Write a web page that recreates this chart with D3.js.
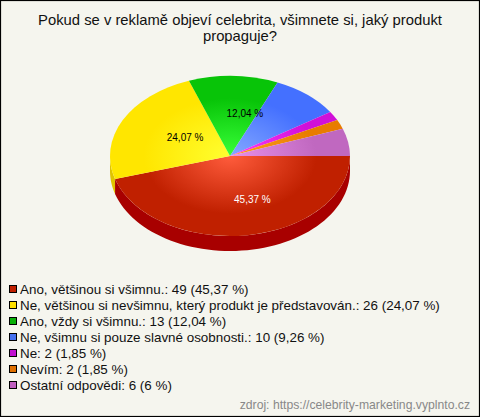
<!DOCTYPE html>
<html><head><meta charset="utf-8">
<script src="https://cdn.jsdelivr.net/npm/d3@7/dist/d3.min.js"></script>
<style>html,body{margin:0;padding:0;background:#f5f5ee}svg{display:block}text{font-family:"Liberation Sans",Arial,sans-serif}</style>
</head><body><svg id="c" width="480" height="417"></svg>
<script>
const categories=["Ano, většinou si všimnu.","Ne, většinou si nevšimnu, který produkt je představován.","Ano, vždy si všimnu.","Ne, všimnu si pouze slavné osobnosti.","Ne","Nevím","Ostatní odpovědi"];
const values=[49,26,13,10,2,2,6];
const percentLabels=["45,37 %","24,07 %","12,04 %","9,26 %","1,85 %","1,85 %","6 %"];
const innerColors=["#ff5c3c","#ffff30","#38ff38","#84a8ff","#ff40ff","#ffa020","#e890e8"];
const outerColors=["#c02000","#ffe600","#08c408","#4470ff","#d010d8","#e87c00","#c068c0"];
const sideColors=["#a80000","#e0c400","#089008","#3050c0","#a000a0","#b06000","#905090"];
const legendColors=["#c02000","#ffe000","#08b008","#4470f0","#c010d0","#e07000","#c060c0"];
const pieLabelled=[0,1,2];
const titleLines=["Pokud se v reklamě objeví celebrita, všimnete si, jaký produkt","propaguje?"];
const sourceText="zdroj: https://celebrity-marketing.vyplnto.cz";

const W=480,H=417,cx=230,cy=156,rx=120,ry=80,depth=15;
const svg=d3.select("#c");
svg.append("rect").attr("x",.5).attr("y",.5).attr("width",W-1).attr("height",H-1).attr("fill","#f5f5ee").attr("stroke","#000").attr("stroke-width",1.2);
svg.selectAll("text.t").data(titleLines).join("text").attr("class","t").attr("x",240).attr("y",(d,i)=>25+i*16).attr("text-anchor","middle").attr("font-size",14.8).attr("fill","#111").text(d=>d);

const arcs=d3.pie().sort(null).startAngle(Math.PI/2).endAngle(Math.PI/2+2*Math.PI)(values);
const defs=svg.append("defs");
arcs.forEach((a,i)=>{
 const g=defs.append("radialGradient").attr("id","g"+i).attr("gradientUnits","userSpaceOnUse").attr("cx",0).attr("cy",0).attr("r",rx);
 g.append("stop").attr("offset",0).attr("stop-color",innerColors[i]);
 g.append("stop").attr("offset",.72).attr("stop-color",outerColors[i]);
 g.append("stop").attr("offset",1).attr("stop-color",outerColors[i]);
});
const px=t=>rx*Math.sin(t), py=t=>-ry*Math.cos(t);
const side=d3.area().x(t=>cx+px(t)).y0(t=>cy+py(t)).y1(t=>cy+py(t)+depth);
const sideG=svg.append("g");
arcs.forEach((a,i)=>{
 const s=Math.max(a.startAngle,Math.PI/2), e=Math.min(a.endAngle,3*Math.PI/2);
 if(e<=s) return;
 const ts=d3.range(0,61).map(k=>s+(e-s)*k/60);
 sideG.append("path").attr("d",side(ts)).attr("fill",sideColors[i]);
});
const arc=d3.arc().innerRadius(0).outerRadius(rx);
const face=svg.append("g").attr("transform",`translate(${cx},${cy}) scale(1,${ry/rx})`);
face.selectAll("path").data(arcs).join("path").attr("d",arc).attr("fill",(d,i)=>`url(#g${i})`);
const labelArc=d3.arc().innerRadius(rx*.54).outerRadius(rx*.54);
pieLabelled.forEach((i,k)=>{
 const [x,y]=labelArc.centroid(arcs[i]);
 svg.append("text").attr("x",cx+x+13).attr("y",cy+y*ry/rx+4).attr("text-anchor","middle").attr("font-size",10).attr("fill",i===0?"#fff":"#000").text(percentLabels[i]);
});
const leg=svg.append("g").selectAll("g").data(categories).join("g").attr("transform",(d,i)=>`translate(0,${289+i*16})`);
leg.append("rect").attr("x",9.5).attr("y",-3.5).attr("width",7).attr("height",7).attr("fill",(d,i)=>legendColors[i]).attr("stroke","#000").attr("stroke-width",1);
leg.append("text").attr("x",20).attr("y",5).attr("font-size",13.4).attr("fill","#111").text((d,i)=>`${d}: ${values[i]} (${percentLabels[i]})`);
svg.append("text").attr("x",470).attr("y",409).attr("text-anchor","end").attr("font-size",12.2).attr("fill","#888").text(sourceText);
</script></body></html>
